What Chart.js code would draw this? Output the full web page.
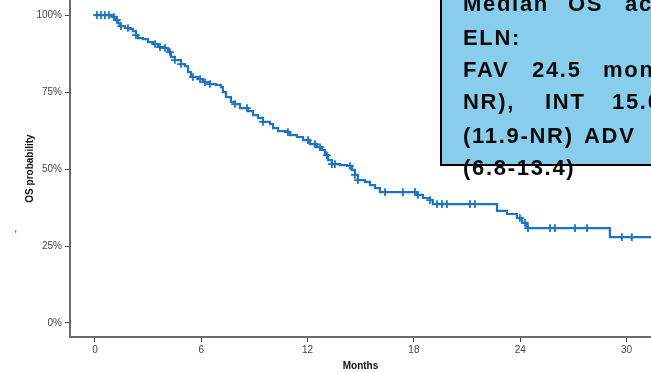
<!DOCTYPE html>
<html>
<head>
<meta charset="utf-8">
<script src="https://cdn.jsdelivr.net/npm/chart.js"></script>
<style>
  html, body { margin: 0; padding: 0; background: #fff; overflow: hidden; }
  #wrap { position: relative; width: 651px; height: 372px; overflow: hidden; }
  #km { position: absolute; left: 0; top: 0; }
  .note {
    position: absolute; left: 440px; top: -10px; width: 300px; height: 176px;
    background: #89cdec; border: 2px solid #000; box-sizing: border-box;
  }
  .line {
    position: absolute; left: 0; top: 0; white-space: pre;
    font: bold 22px "Liberation Sans", Arial, sans-serif; line-height: 22px;
    letter-spacing: 1.7px; color: #0a0a0a;
  }
  .line span { position: absolute; top: 0; }
  .dash {
    position: absolute; left: 13px; top: 226px; font: 10px "Liberation Sans", Arial, sans-serif;
    color: #333; transform: rotate(-90deg);
  }
</style>
</head>
<body>
<div id="wrap">
  <canvas id="km" width="651" height="372"></canvas>
  <div class="note"></div>
  <div id="noteText"></div>
  <div class="dash">-</div>
</div>
<script>
// Kaplan-Meier steps (months, OS %)
const eventMonths = [1.02, 1.19, 1.30, 1.41, 1.69, 1.98, 2.14, 2.31, 2.43, 2.71,
  2.99, 3.27, 3.56, 3.95, 4.12, 4.29, 4.51, 4.85, 5.08, 5.25,
  5.42, 5.81, 6.09, 6.49, 6.83, 7.11, 7.22, 7.39, 7.67, 7.90,
  8.18, 8.63, 8.92, 9.20, 9.48, 9.88, 10.05, 10.33, 10.84, 11.00,
  11.40, 11.74, 12.13, 12.53, 12.81, 12.98, 13.15, 13.37, 13.83, 14.22,
  14.50, 14.67, 14.84, 15.24, 15.52, 15.80, 16.08, 18.17, 18.51, 18.91,
  19.07, 22.69, 23.25, 23.81, 24.10, 24.38, 29.06];
const survivalPct = [99.4, 98.4, 97.4, 96.4, 95.8, 95.5, 94.8, 93.5, 92.5, 92.2,
  91.2, 90.6, 89.6, 89.3, 88.0, 86.4, 85.4, 84.1, 83.4, 81.5,
  79.9, 79.2, 78.2, 77.6, 77.3, 76.6, 75.0, 73.4, 71.8, 71.1,
  69.8, 68.8, 67.5, 66.6, 65.3, 64.6, 63.3, 62.3, 62.0, 61.0,
  60.4, 59.4, 58.1, 57.1, 56.2, 54.5, 52.9, 51.6, 51.3, 51.0,
  49.7, 48.1, 46.4, 45.8, 44.8, 43.8, 42.5, 41.6, 40.6, 39.9,
  38.6, 36.4, 35.4, 34.1, 32.5, 30.8, 27.9];
const lastFollowUp = 31.4;

// censored patients (+ marks)
const censorMonths = [0.11, 0.34, 0.56, 0.79, 1.07, 1.24, 1.47, 1.86, 2.31, 3.39,
  3.67, 3.95, 4.23, 4.51, 4.85, 5.53, 5.93, 6.21, 6.49, 7.90,
  8.58, 9.48, 10.89, 12.02, 12.42, 12.70, 13.09, 13.37, 13.54, 14.39,
  14.67, 14.84, 16.37, 17.38, 18.06, 18.23, 18.91, 19.30, 19.58, 19.86,
  21.16, 21.44, 23.98, 24.27, 24.44, 25.68, 25.96, 27.09, 27.77, 29.74, 30.30];

const xTicks = [0, 6, 12, 18, 24, 30];
const yTicks = [0, 25, 50, 75, 100];

// note box text, word by word (justified in the source)
const noteLines = [
  [[463, "Median"], [568, "OS"], [625, "according"]],
  [[463, "ELN:"]],
  [[463, "FAV"], [532, "24.5"], [603, "months"]],
  [[463, "NR),"], [545, "INT"], [612, "15.0"]],
  [[463, "(11.9-NR)"], [584, "ADV"]],
  [[463, "(6.8-13.4)"]]
];
const noteBaselines = [11.5, 45.3, 77.5, 110, 143.5, 175.5];

const blue = "#1b74c5";

function survivalAt(t) {
  let s = 100;
  for (let i = 0; i < eventMonths.length; i++) {
    if (eventMonths[i] <= t) s = survivalPct[i];
  }
  return s;
}

const curve = [{ x: 0, y: 100 }];
eventMonths.forEach((m, i) => curve.push({ x: m, y: survivalPct[i] }));
curve.push({ x: lastFollowUp, y: survivalPct[survivalPct.length - 1] });

const censors = censorMonths.map(m => ({ x: m, y: survivalAt(m) }));

const tickFont = { family: "'Liberation Sans Narrow', 'Arial Narrow', 'Liberation Sans', sans-serif", size: 10 };
const titleFont = { family: "'Liberation Sans Narrow', 'Arial Narrow', 'Liberation Sans', sans-serif", size: 10, weight: "bold" };

const ctx = document.getElementById("km");
const graph = new Chart(ctx, {
  type: "line",
  data: {
    datasets: [{
      data: curve,
      borderColor: blue,
      borderWidth: 2.2,
      stepped: true,
      pointRadius: 0,
      fill: false
    }, {
      data: censors,
      showLine: false,
      pointStyle: "cross",
      pointRadius: 3.8,
      pointBorderWidth: 1.8,
      pointBorderColor: blue,
      pointBackgroundColor: blue
    }]
  },
  options: {
    responsive: false,
    animation: false,
    layout: { padding: 0, autoPadding: false },
    scales: {
      x: {
        type: "linear",
        min: -1.41,
        max: 31.38,
        afterFit: s => { s.height = 35; s.paddingLeft = 0; s.paddingRight = 0; },
        afterBuildTicks: s => { s.ticks = xTicks.map(v => ({ value: v })); },
        grid: { drawOnChartArea: false, drawTicks: true, tickLength: 5, color: "#444" },
        border: { display: true, color: "#6a6a6a", width: 2 },
        ticks: { font: tickFont, color: "#444", padding: 2, maxRotation: 0 },
        title: { display: true, text: "Months", font: titleFont, color: "#111", padding: { top: 1, bottom: 0 } }
      },
      y: {
        min: -4.55,
        max: 104.9,
        afterFit: s => { s.width = 70; s.paddingTop = 0; s.paddingBottom = 0; },
        afterBuildTicks: s => { s.ticks = yTicks.map(v => ({ value: v })); },
        grid: { drawOnChartArea: false, drawTicks: true, tickLength: 5, color: "#444" },
        border: { display: true, color: "#6a6a6a", width: 2 },
        ticks: {
          font: tickFont, color: "#444", padding: 3,
          callback: function (value) { return value + "%"; }
        },
        title: { display: true, text: "OS probability", font: titleFont, color: "#111", padding: { top: 24, bottom: 0 } }
      }
    },
    plugins: {
      legend: { display: false },
      tooltip: { enabled: false }
    }
  }
});

// overlay note box text (baseline sits ~18.6px below the row top at 22px)
const holder = document.getElementById("noteText");
noteLines.forEach((words, i) => {
  const row = document.createElement("div");
  row.className = "line";
  row.style.top = (noteBaselines[i] - 18.6) + "px";
  words.forEach(([x, w]) => {
    const sp = document.createElement("span");
    sp.style.left = x + "px";
    sp.textContent = w;
    row.appendChild(sp);
  });
  holder.appendChild(row);
});
</script>
</body>
</html>
